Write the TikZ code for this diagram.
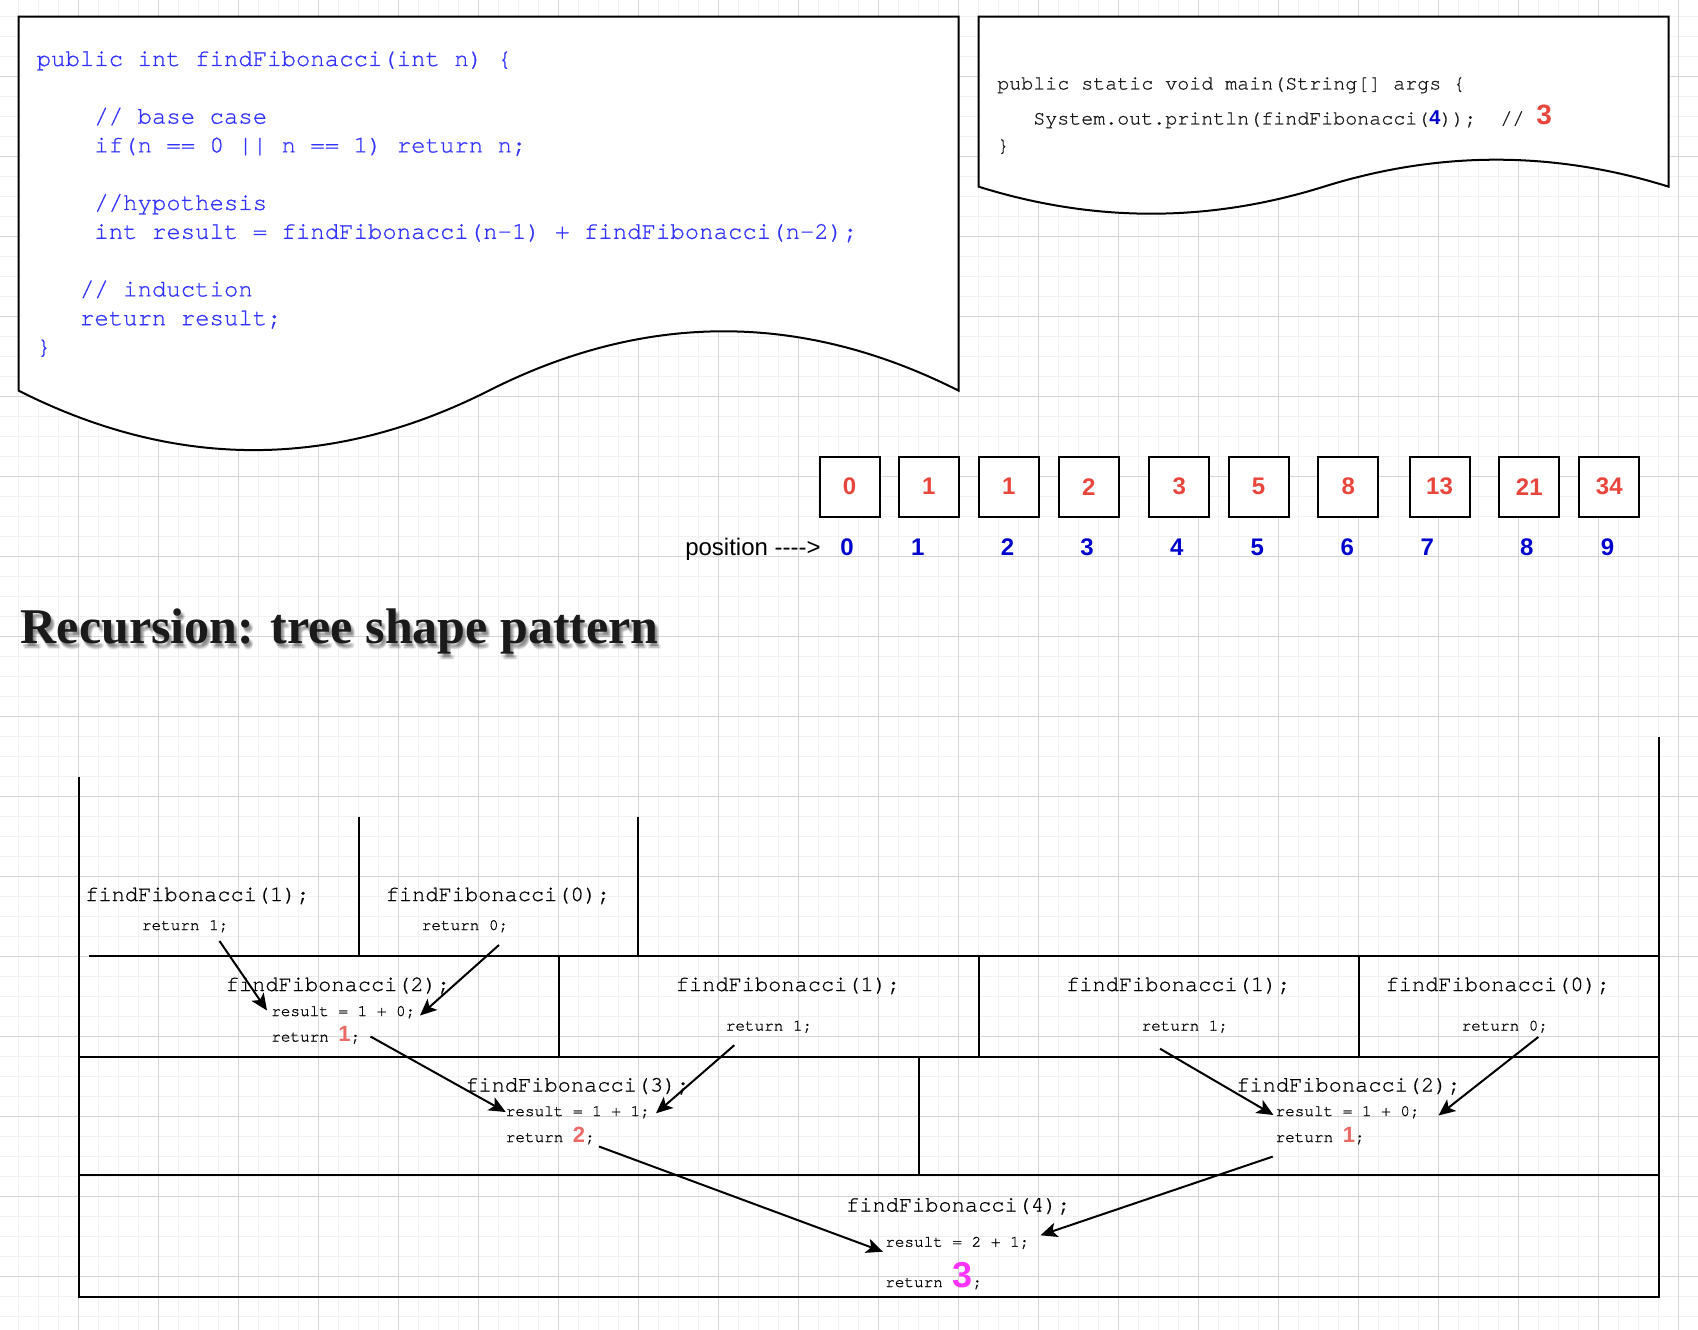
\documentclass[tikz,border=0pt]{standalone}
\usepackage{fontspec}
\setmainfont{Liberation Serif}
\newfontfamily\cmono{texgyrecursor-regular.otf}[Ligatures=NoCommon, Kerning=Off, FakeBold=0.8]
\newfontfamily\csans{Liberation Sans}
\usetikzlibrary{arrows.meta}
\definecolor{codeblue}{HTML}{3333FF}
\definecolor{numred}{HTML}{E8453C}
\definecolor{retred}{HTML}{EA6B66}
\definecolor{posblue}{HTML}{0000CC}
\definecolor{magn}{HTML}{FF33FF}
\definecolor{gridminor}{HTML}{F1F1F1}
\definecolor{gridmajor}{HTML}{D6D6D6}
\definecolor{titlecol}{HTML}{1A1A1A}
\newcommand\myfs[1]{\fontsize{#1}{#1}\selectfont}
\tikzset{
  lcode/.style={font=\cmono\myfs{18pt}, text=codeblue, inner sep=0pt, anchor=base west},
  rcode/.style={font=\cmono\myfs{15pt}, text=black!90, inner sep=0pt, anchor=base west},
  tbig/.style={font=\cmono\myfs{16.5pt}, text=black, inner sep=0pt, anchor=base west},
  tsmall/.style={font=\cmono\myfs{12pt}, text=black, inner sep=0pt, anchor=base west},
  fbox/.style={draw=black, line width=1.5pt, fill=white, minimum width=45pt, minimum height=45pt, inner sep=0pt, font=\csans\bfseries\myfs{18pt}, text=numred},
  posnum/.style={font=\csans\bfseries\myfs{18pt}, text=posblue, inner sep=0pt, anchor=base},
  docshape/.style={draw=black, line width=1.5pt, fill=white},
  frame/.style={draw=black, line width=1.5pt},
  arr/.style={draw=black, line width=1.5pt, -{Stealth[length=12.5pt,width=11pt,inset=3pt]}},
  titletext/.style={font=\bfseries\myfs{37.5pt}, inner sep=0pt, anchor=base west},
}
\newcommand\retnum[2]{{\csans\bfseries\myfs{16.5pt}\color{#1}#2}}
\begin{document}
\begin{tikzpicture}[x=0.75pt,y=-0.75pt]
\useasboundingbox (0,0) rectangle (1698,1330);
\fill[white] (0,0) rectangle (1698,1330);
% grid
\foreach \i in {1,...,84} { \draw[gridminor, line width=0.75pt] ({-1.5+20*\i},0) -- ({-1.5+20*\i},1330); }
\foreach \j in {1,...,66} { \draw[gridminor, line width=0.75pt] (0,{-3.3+20*\j}) -- (1698,{-3.3+20*\j}); }
\foreach \i in {1,...,21} { \draw[gridmajor, line width=0.75pt] ({-1.5+80*\i},0) -- ({-1.5+80*\i},1330); }
\foreach \j in {1,...,16} { \draw[gridmajor, line width=0.75pt] (0,{-3.3+80*\j}) -- (1698,{-3.3+80*\j}); }

% left document shape
\draw[docshape] (18.7,16.7) -- (958.7,16.7) -- (958.7,390.7)
  .. controls (802.0,311.5) and (645.4,311.5) .. (488.7,390.7)
  .. controls (332.0,469.9) and (175.4,469.9) .. (18.7,390.7) -- cycle;
% right document shape
\draw[docshape] (978.7,16.7) -- (1668.7,16.7) -- (1668.7,186.7)
  .. controls (1553.7,150.7) and (1438.7,150.7) .. (1323.7,186.7)
  .. controls (1208.7,222.7) and (1093.7,222.7) .. (978.7,186.7) -- cycle;

% left code
\node[lcode] (lc1) at (36.5,66) {public int findFibonacci(int n) \{};
\node[lcode] (lc2) at (94.1,123.6) {// base case};
\node[lcode] (lc3) at (94.1,152.4) {if(n == 0 || n == 1) return n;};
\node[lcode] (lc4) at (94.1,210) {//hypothesis};
\node[lcode] (lc5) at (94.1,238.8) {int result = findFibonacci(n-1) + findFibonacci(n-2);};
\node[lcode] (lc6) at (79.7,296.4) {// induction};
\node[lcode] (lc7) at (79.7,325.2) {return result;};
\node[lcode] (lc8) at (36.5,354) {\}};

% right code
\node[rcode] (rc1) at (997,89.5) {public static void main(String[] args \{};
\node[rcode] (rc2) at (1033,124.5) {System.out.println(findFibonacci({\csans\bfseries\color{posblue}4}));\ \ //\ {\csans\bfseries\myfs{21pt}\color{numred}3}};
\node[rcode] (rc3) at (997,151.5) {\}};

% fibonacci boxes
\node[fbox] (b0) at (849.5,486.7) {0};
\node[fbox] (b1) at (928.8,486.7) {1};
\node[fbox] (b2) at (1008.8,486.7) {1};
\node[fbox] (b3) at (1088.8,486.7) {2};
\node[fbox] (b4) at (1179.2,486.7) {3};
\node[fbox] (b5) at (1258.6,486.7) {5};
\node[fbox] (b6) at (1348.4,486.7) {8};
\node[fbox] (b7) at (1439.5,486.7) {13};
\node[fbox] (b8) at (1529.3,486.7) {21};
\node[fbox] (b9) at (1609.3,486.7) {34};

% positions
\node[font=\csans\myfs{18pt}, inner sep=0pt, anchor=base west] (pos) at (685,555) {position -\kern0pt-\kern0pt-\kern0pt->};
\node[posnum] (p0) at (847,555) {0};
\node[posnum] (p1) at (917.8,555) {1};
\node[posnum] (p2) at (1007.6,555) {2};
\node[posnum] (p3) at (1087,555) {3};
\node[posnum] (p4) at (1176.8,555) {4};
\node[posnum] (p5) at (1257.4,555) {5};
\node[posnum] (p6) at (1347.2,555) {6};
\node[posnum] (p7) at (1427.2,555) {7};
\node[posnum] (p8) at (1526.9,555) {8};
\node[posnum] (p9) at (1607.5,555) {9};

% title with soft shadow
\begin{scope}[opacity=0.08]
\foreach \dx/\dy in {1/3,2/3,3/4,4/5,2/5,3/6,4/3} {
  \node[titletext, text=black] at ({20.5+\dx},{643+\dy}) {Recursion: tree shape pattern};
}
\end{scope}
\node[titletext, text=titlecol] (title) at (20.5,643) {Recursion: tree shape pattern};

% tree frame
\draw[frame] (78.5,776.7) -- (78.5,1296.5) -- (1659,1296.5) -- (1659,736.7);
\draw[frame] (89,955.5) -- (1659,955.5);
\draw[frame] (78.5,1056.5) -- (1659,1056.5);
\draw[frame] (78.5,1175) -- (1659,1175);
\draw[frame] (358.5,816.7) -- (358.5,955.5);
\draw[frame] (638,816.7) -- (638,955.5);
\draw[frame] (558.5,955.5) -- (558.5,1056.5);
\draw[frame] (979,955.5) -- (979,1056.5);
\draw[frame] (1359,955.5) -- (1359,1056.5);
\draw[frame] (919,1056.5) -- (919,1175);

% row 1
\node[tbig] (fa) at (85,901) {findFibonacci(1);};
\node[tsmall] (ra) at (141.7,930) {return 1;};
\node[tbig] (fb) at (385.5,901) {findFibonacci(0);};
\node[tsmall] (rb) at (421.5,930) {return 0;};
% row 2
\node[tbig] (fc) at (225.5,991) {findFibonacci(2);};
\node[tsmall] (sc) at (271,1016) {result = 1 + 0;};
\node[tsmall] (rc) at (271,1041.5) {return \retnum{retred}{1};};
\node[tbig] (fd) at (675.5,991) {findFibonacci(1);};
\node[tsmall] (rd) at (725.5,1030.5) {return 1;};
\node[tbig] (fe) at (1065.8,991) {findFibonacci(1);};
\node[tsmall] (re) at (1141.3,1030.5) {return 1;};
\node[tbig] (ff) at (1385.3,991) {findFibonacci(0);};
\node[tsmall] (rf) at (1461.3,1030.5) {return 0;};
% row 3
\node[tbig] (fg) at (465,1091.5) {findFibonacci(3);};
\node[tsmall] (sg) at (505.5,1116) {result = 1 + 1;};
\node[tsmall] (rg) at (505.5,1142) {return \retnum{retred}{2};};
\node[tbig] (fh) at (1236,1091.5) {findFibonacci(2);};
\node[tsmall] (sh) at (1275.3,1116) {result = 1 + 0;};
\node[tsmall] (rh) at (1275.3,1142) {return \retnum{retred}{1};};
% row 4
\node[tbig] (fi) at (845.8,1211.5) {findFibonacci(4);};
\node[tsmall] (si) at (885,1246.7) {result = 2 + 1;};
\node[tsmall] (ri) at (885,1287) {return {\csans\bfseries\myfs{27pt}\color{magn}3};};

% arrow end points
\coordinate (a1s) at (219.5,941);   \coordinate (a1e) at (267,1010.5);
\coordinate (a2s) at (499,945);     \coordinate (a2e) at (420,1015.5);
\coordinate (a3s) at (370.5,1036.5);\coordinate (a3e) at (505.7,1112);
\coordinate (a4s) at (734.3,1045.2);\coordinate (a4e) at (656,1113.3);
\coordinate (a5s) at (599,1146.5);  \coordinate (a5e) at (883,1251.7);
\coordinate (a6s) at (1160,1048.7); \coordinate (a6e) at (1273.5,1115);
\coordinate (a7s) at (1538.3,1037); \coordinate (a7e) at (1438.5,1115.5);
\coordinate (a8s) at (1272.7,1156.6);\coordinate (a8e) at (1040.5,1235.3);
\draw[arr] (a1s) -- (a1e);
\draw[arr] (a2s) -- (a2e);
\draw[arr] (a3s) -- (a3e);
\draw[arr] (a4s) -- (a4e);
\draw[arr] (a5s) -- (a5e);
\draw[arr] (a6s) -- (a6e);
\draw[arr] (a7s) -- (a7e);
\draw[arr] (a8s) -- (a8e);
\end{tikzpicture}
\end{document}
